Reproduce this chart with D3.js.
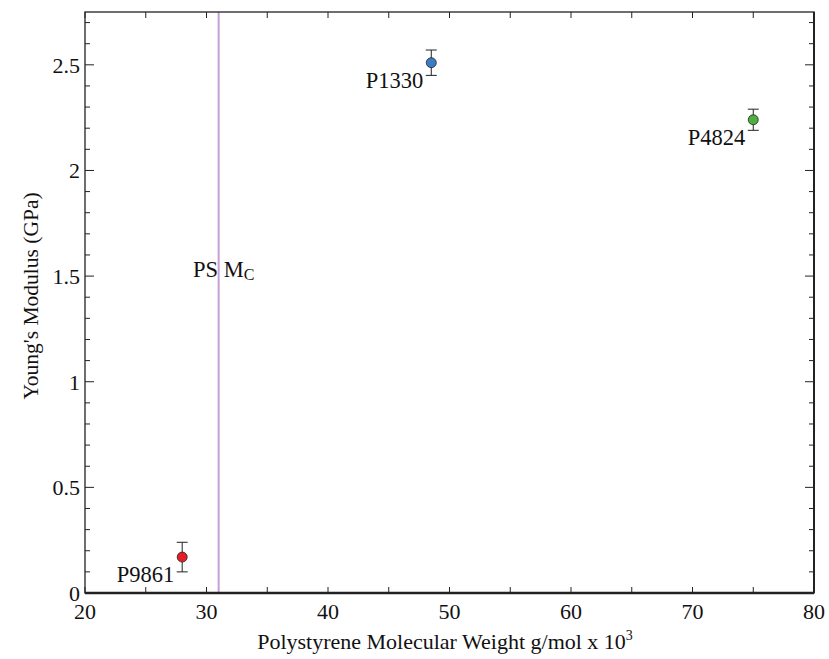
<!DOCTYPE html>
<html>
<head>
<meta charset="utf-8">
<script src="https://cdn.jsdelivr.net/npm/d3@7"></script>
<style>
  body { margin: 0; background: #fff; }
</style>
</head>
<body>
<svg id="chart" width="829" height="659"></svg>
<script>
// Polymer samples: molecular weight (kg/mol) vs Young's modulus
const samples = ["P9861", "P1330", "P4824"];
const molWeight = [28, 48.5, 75];
const modulus = [0.17, 2.51, 2.24];
const modulusErr = [0.07, 0.06, 0.05];
const colors = ["#e31e24", "#3b7dc4", "#4caf3e"];
const xTicks = [20, 30, 40, 50, 60, 70, 80];
const yTicks = [0, 0.5, 1, 1.5, 2, 2.5];
const entanglementMw = 31;

const FONT = '"Liberation Serif"';
const svg = d3.select("#chart");
const m = { left: 85, right: 15, top: 12, bottom: 66 };
const W = 829, H = 659;
const x = d3.scaleLinear().domain([20, 80]).range([m.left, W - m.right]);
const y = d3.scaleLinear().domain([0, 2.75]).range([H - m.bottom, m.top]);

const g = svg.append("g");

// Mc reference line
g.append("line")
  .attr("x1", x(entanglementMw)).attr("x2", x(entanglementMw))
  .attr("y1", y(0)).attr("y2", y(2.75))
  .attr("stroke", "#c79fd2").attr("stroke-width", 2);

// inward ticks on all four sides
const tickStroke = "#222";
const xMinor = d3.range(20, 80.01, 5);
const yMinor = d3.range(0, 2.751, 0.1);
xMinor.forEach(v => {
  const len = 6;
  g.append("line").attr("x1", x(v)).attr("x2", x(v)).attr("y1", y(0)).attr("y2", y(0) - len).attr("stroke", tickStroke);
  g.append("line").attr("x1", x(v)).attr("x2", x(v)).attr("y1", y(2.75)).attr("y2", y(2.75) + len).attr("stroke", tickStroke);
});
yMinor.forEach(v => {
  const r = Math.round(v * 10) % 5;
  const len = r === 0 ? 9 : 5;
  g.append("line").attr("x1", x(20)).attr("x2", x(20) + len).attr("y1", y(v)).attr("y2", y(v)).attr("stroke", tickStroke);
  g.append("line").attr("x1", x(80)).attr("x2", x(80) - len).attr("y1", y(v)).attr("y2", y(v)).attr("stroke", tickStroke);
});

// frame
g.append("rect")
  .attr("x", x(20)).attr("y", y(2.75))
  .attr("width", x(80) - x(20)).attr("height", y(0) - y(2.75))
  .attr("fill", "none").attr("stroke", "#222").attr("stroke-width", 1.3);
g.append("line").attr("x1", x(20)).attr("x2", x(80)).attr("y1", y(0)).attr("y2", y(0))
  .attr("stroke", "#222").attr("stroke-width", 2.5);
g.append("line").attr("x1", x(80)).attr("x2", x(80)).attr("y1", y(0)).attr("y2", y(2.75))
  .attr("stroke", "#222").attr("stroke-width", 2);

// tick labels
g.selectAll(".xt").data(xTicks).enter().append("text")
  .style("font-family", FONT)
  .attr("x", d => x(d)).attr("y", y(0) + 26)
  .attr("text-anchor", "middle").attr("font-size", 22).attr("fill", "#111")
  .text(d => d);
g.selectAll(".yt").data(yTicks).enter().append("text")
  .style("font-family", FONT)
  .attr("x", x(20) - 5).attr("y", d => y(d) + 8)
  .attr("text-anchor", "end").attr("font-size", 22).attr("fill", "#111")
  .text(d => d);

// axis titles
const xt = svg.append("text").style("font-family", FONT)
  .attr("x", 445).attr("y", 649)
  .attr("text-anchor", "middle").attr("font-size", 22).attr("fill", "#111");
xt.append("tspan").text("Polystyrene Molecular Weight g/mol x 10");
xt.append("tspan").attr("dy", -9).attr("font-size", 14).text("3");

svg.append("text").style("font-family", FONT)
  .attr("transform", "translate(38,296) rotate(-90)")
  .attr("text-anchor", "middle").attr("font-size", 21.5).attr("fill", "#111")
  .text("Young's Modulus (GPa)");

// Mc label
const mc = svg.append("text").style("font-family", FONT)
  .attr("x", 193).attr("y", 277).attr("font-size", 22.5).attr("fill", "#111");
mc.append("tspan").text("PS M");
mc.append("tspan").attr("dy", 3).attr("font-size", 16).text("C");

// error bars + points
const cap = 5.5;
samples.forEach((s, i) => {
  const cx = x(molWeight[i]);
  const lo = y(modulus[i] - modulusErr[i]), hi = y(modulus[i] + modulusErr[i]);
  g.append("line").attr("x1", cx).attr("x2", cx).attr("y1", lo).attr("y2", hi).attr("stroke", "#222");
  g.append("line").attr("x1", cx - cap).attr("x2", cx + cap).attr("y1", lo).attr("y2", lo).attr("stroke", "#222");
  g.append("line").attr("x1", cx - cap).attr("x2", cx + cap).attr("y1", hi).attr("y2", hi).attr("stroke", "#222");
  g.append("circle").attr("cx", cx).attr("cy", y(modulus[i])).attr("r", 5)
    .attr("fill", colors[i]).attr("stroke", "#222").attr("stroke-width", 0.8);
  g.append("text").style("font-family", FONT)
    .attr("x", cx - 8).attr("y", y(modulus[i]) + 25)
    .attr("text-anchor", "end").attr("font-size", 22.5).attr("fill", "#111")
    .text(s);
});
</script>
</body>
</html>
